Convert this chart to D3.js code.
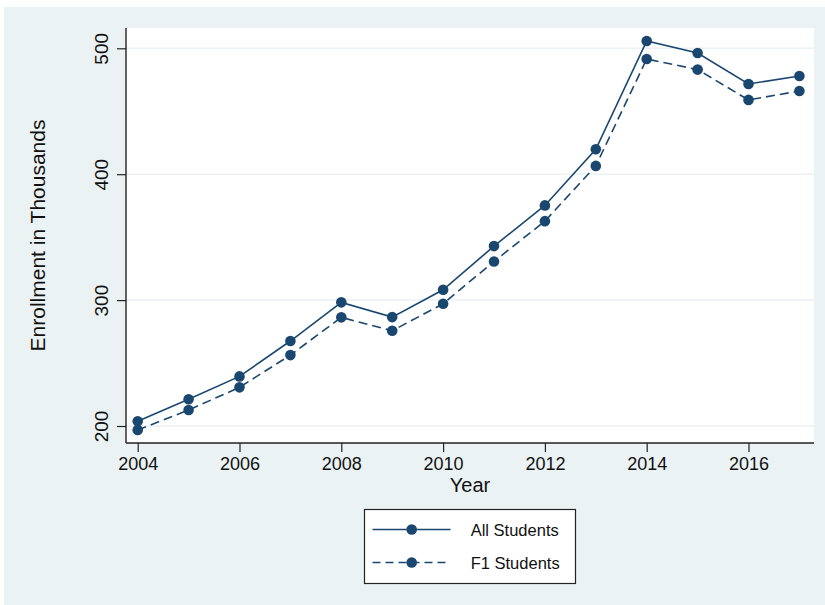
<!DOCTYPE html>
<html>
<head>
<meta charset="utf-8">
<script src="https://cdn.jsdelivr.net/npm/d3@7"></script>
<style>
  html, body { margin: 0; padding: 0; background: #ffffff; }
  svg { display: block; font-family: "Liberation Sans", Arial, Helvetica, sans-serif; }
</style>
</head>
<body>
<svg id="chart" width="825" height="605"></svg>
<script>
// Enrollment (thousands) by year
const years = [2004, 2005, 2006, 2007, 2008, 2009, 2010, 2011, 2012, 2013, 2014, 2015, 2016, 2017];
const allStudents = [203.7, 221.2, 239.4, 267.5, 298.2, 286.5, 308.2, 342.9, 375.2, 419.8, 505.8, 496.3, 471.7, 478.0];
const f1Students  = [196.8, 212.7, 230.7, 256.3, 286.3, 275.6, 297.1, 330.7, 362.7, 406.6, 491.5, 483.1, 459.0, 466.1];
const yTicks = [200, 300, 400, 500];
const xTicks = [2004, 2006, 2008, 2010, 2012, 2014, 2016];
const seriesNames = ["All Students", "F1 Students"];

const navy = "#1a476f";
const bg = "#eaf2f3";

const svg = d3.select("#chart");

// outer graph region
svg.append("rect")
  .attr("x", 4).attr("y", 7).attr("width", 821).attr("height", 598)
  .attr("fill", bg);

// plot region
const plot = { left: 126, right: 814, top: 28, bottom: 443 };
svg.append("rect")
  .attr("x", plot.left).attr("y", plot.top)
  .attr("width", plot.right - plot.left).attr("height", plot.bottom - plot.top)
  .attr("fill", "#ffffff");

const x = d3.scaleLinear().domain([2004, 2017]).range([137.7, 799.4]);
const y = d3.scaleLinear().domain([200, 500]).range([426, 48.3]);

// horizontal grid lines
svg.append("g")
  .selectAll("line")
  .data(yTicks)
  .join("line")
  .attr("x1", plot.left).attr("x2", plot.right)
  .attr("y1", d => y(d)).attr("y2", d => y(d))
  .attr("stroke", bg).attr("stroke-width", 1.5);

// y axis
const yAxis = svg.append("g")
  .attr("transform", `translate(${plot.left},0)`)
  .call(d3.axisLeft(y).tickValues(yTicks).tickSize(9).tickFormat(d3.format("d")));
yAxis.select(".domain").remove();
yAxis.selectAll(".tick line").attr("stroke", "#222").attr("stroke-width", 1.2);
yAxis.selectAll(".tick text")
  .attr("transform", "rotate(-90)")
  .attr("x", 0).attr("y", -18).attr("dy", null)
  .attr("text-anchor", "middle")
  .attr("font-size", 19).attr("fill", "#111")
  .attr("font-family", "Liberation Sans, Arial, sans-serif");
svg.append("line")
  .attr("x1", plot.left).attr("x2", plot.left)
  .attr("y1", plot.top).attr("y2", plot.bottom)
  .attr("stroke", "#222").attr("stroke-width", 1.4);

// x axis
const xAxis = svg.append("g")
  .attr("transform", `translate(0,${plot.bottom})`)
  .call(d3.axisBottom(x).tickValues(xTicks).tickSize(9).tickFormat(d3.format("d")));
xAxis.select(".domain").remove();
xAxis.selectAll(".tick line").attr("stroke", "#222").attr("stroke-width", 1.2);
xAxis.selectAll(".tick text")
  .attr("y", 27).attr("dy", null)
  .attr("font-size", 18).attr("fill", "#111")
  .attr("font-family", "Liberation Sans, Arial, sans-serif");
svg.append("line")
  .attr("x1", plot.left).attr("x2", plot.right)
  .attr("y1", plot.bottom).attr("y2", plot.bottom)
  .attr("stroke", "#222").attr("stroke-width", 1.4);

// axis titles
svg.append("text")
  .attr("x", (plot.left + plot.right) / 2).attr("y", 492)
  .attr("text-anchor", "middle").attr("font-size", 20).attr("fill", "#111")
  .text("Year");
svg.append("text")
  .attr("transform", `translate(45,${(plot.top + plot.bottom) / 2}) rotate(-90)`)
  .attr("text-anchor", "middle").attr("font-size", 21).attr("fill", "#111")
  .text("Enrollment in Thousands");

// series
const series = [
  { name: seriesNames[0], values: allStudents, dash: null },
  { name: seriesNames[1], values: f1Students, dash: "9,5" }
];
const line = d3.line().x((d, i) => x(years[i])).y(d => y(d));

series.forEach(s => {
  svg.append("path")
    .datum(s.values)
    .attr("d", line)
    .attr("fill", "none")
    .attr("stroke", navy)
    .attr("stroke-width", 1.6)
    .attr("stroke-dasharray", s.dash);
  svg.append("g")
    .selectAll("circle")
    .data(s.values)
    .join("circle")
    .attr("cx", (d, i) => x(years[i]))
    .attr("cy", d => y(d))
    .attr("r", 5.3)
    .attr("fill", navy);
});

// legend
const legend = svg.append("g").attr("transform", "translate(364,509)");
legend.append("rect")
  .attr("x", 0.5).attr("y", 0.5).attr("width", 211).attr("height", 74)
  .attr("fill", "#ffffff").attr("stroke", "#222").attr("stroke-width", 1.2);
series.forEach((s, i) => {
  const ly = 20.5 + i * 33;
  legend.append("line")
    .attr("x1", 8.5).attr("x2", 86.5).attr("y1", ly).attr("y2", ly)
    .attr("stroke", navy).attr("stroke-width", 1.6)
    .attr("stroke-dasharray", s.dash ? "8,5" : null);
  legend.append("circle")
    .attr("cx", 47.7).attr("cy", ly).attr("r", 5.3).attr("fill", navy);
  legend.append("text")
    .attr("x", 106.7).attr("y", ly + 6)
    .attr("font-size", 16.5).attr("fill", "#111")
    .text(s.name);
});
</script>
</body>
</html>
